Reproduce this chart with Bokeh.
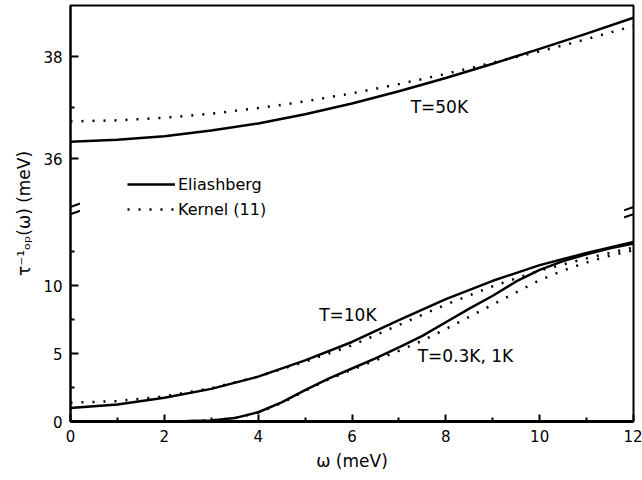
from bokeh.plotting import figure
from bokeh.models import (Range1d, FixedTicker, CustomJSTickFormatter, Label,
                          Legend, LegendItem, PolyAnnotation)
from bokeh.embed import file_html
from bokeh.resources import INLINE

# ---------------- data ----------------
omega_1 = [0, 1, 2, 3, 4, 5, 6, 7, 8, 9, 10, 11, 12]
tau_50K_eliashberg = [36.33, 36.37, 36.44, 36.55, 36.69, 36.87, 37.08, 37.32, 37.58, 37.86, 38.15, 38.45, 38.76]
tau_50K_kernel = [36.73, 36.75, 36.80, 36.88, 36.99, 37.12, 37.28, 37.46, 37.66, 37.88, 38.10, 38.34, 38.60]
tau_10K_eliashberg = [1.0, 1.25, 1.75, 2.4, 3.3, 4.5, 5.85, 7.45, 9.0, 10.35, 11.5, 12.4, 13.2]
tau_10K_kernel = [1.38, 1.5, 1.85, 2.45, 3.3, 4.4, 5.6, 7.1, 8.6, 9.95, 11.1, 12.0, 12.8]

omega_05 = [0, 0.5, 1, 1.5, 2, 2.5, 3, 3.5, 4, 4.5, 5, 5.5, 6, 6.5, 7, 7.5, 8, 8.5, 9, 9.5, 10, 10.5, 11, 11.5, 12]
tau_03K_eliashberg = [0, 0, 0, 0, 0.01, 0.03, 0.08, 0.25, 0.68, 1.4, 2.3, 3.15, 3.9, 4.65, 5.45, 6.3, 7.3, 8.3, 9.25, 10.3, 11.15, 11.8, 12.3, 12.75, 13.1]
tau_03K_kernel = [0, 0, 0, 0, 0.01, 0.03, 0.08, 0.25, 0.65, 1.35, 2.25, 3.1, 3.8, 4.5, 5.2, 5.95, 6.8, 7.7, 8.6, 9.5, 10.4, 11.1, 11.7, 12.2, 12.6]

x_ticks = [0, 2, 4, 6, 8, 10, 12]
x_minor_ticks = [1, 3, 5, 7, 9, 11]
y_ticks_low = [0, 5, 10]
y_minor_low = [2.5, 7.5, 12.5]
y_ticks_up = [36, 38]
y_minor_up = [37]

series_labels = ["Eliashberg", "Kernel (11)"]
curve_labels = ["T=50K", "T=10K", "T=0.3K, 1K"]

# ---------------- ranges (broken axis) ----------------
LOW0, LOW1 = 0.0, 30.6      # lower panel (0..15.5 visible)
UP0, UP1 = 30.85, 39.0      # upper panel (35..39 visible)
BREAK_LOW = 15.5


def up_to_low(v):
    return (v - UP0) / (UP1 - UP0) * (LOW1 - LOW0) + LOW0


FONT = "DejaVu Sans"

p = figure(width=642, height=480, output_backend="svg", toolbar_location=None,
           x_range=Range1d(0, 12), y_range=Range1d(LOW0, LOW1),
           min_border_left=70, min_border_right=9, min_border_top=5, min_border_bottom=59)
p.extra_y_ranges = {"up": Range1d(UP0, UP1)}
p.grid.visible = False
p.background_fill_color = "white"
p.border_fill_color = "white"
p.outline_line_color = "black"
p.outline_line_width = 2

# x axis
xa = p.xaxis[0]
xa.ticker = FixedTicker(ticks=x_ticks, minor_ticks=x_minor_ticks)
xa.axis_label = "ω (meV)"
xa.axis_line_width = 3
xa.major_tick_in = 7
xa.major_tick_out = 0
xa.minor_tick_in = 4
xa.minor_tick_out = 0
xa.major_tick_line_width = 2
xa.minor_tick_line_width = 2
xa.major_label_standoff = 8
xa.axis_label_standoff = 6

# y axis (single axis, labels for both panels)
ya = p.yaxis[0]
ya.ticker = FixedTicker(ticks=y_ticks_low + [up_to_low(v) for v in y_ticks_up],
                        minor_ticks=y_minor_low + [up_to_low(v) for v in y_minor_up])
ya.formatter = CustomJSTickFormatter(
    args=dict(brk=BREAK_LOW, l0=LOW0, l1=LOW1, u0=UP0, u1=UP1),
    code="""
    if (tick > brk) { return ((tick - l0) / (l1 - l0) * (u1 - u0) + u0).toFixed(0); }
    return tick.toFixed(0);
    """)
ya.axis_label = "τ⁻¹ₒₚ(ω) (meV)"
ya.axis_line_width = 2
ya.major_tick_in = 8
ya.major_tick_out = 0
ya.minor_tick_in = 4
ya.minor_tick_out = 0
ya.major_tick_line_width = 2
ya.minor_tick_line_width = 2
ya.major_label_standoff = 8
ya.axis_label_standoff = 6

for ax in (xa, ya):
    ax.major_label_text_font = FONT
    ax.major_label_text_font_size = "15px"
    ax.major_label_text_color = "black"
    ax.axis_label_text_font = FONT
    ax.axis_label_text_font_size = "17px"
    ax.axis_label_text_font_style = "normal"
    ax.axis_label_text_color = "black"
    ax.axis_line_color = "black"
    ax.major_tick_line_color = "black"
    ax.minor_tick_line_color = "black"

LW = 2.5
DOT = "2 9"

r_e50 = p.line(omega_1, tau_50K_eliashberg, y_range_name="up", line_color="black", line_width=LW)
r_k50 = p.line(omega_1, tau_50K_kernel, y_range_name="up", line_color="black", line_width=LW, line_dash=DOT)
p.line(omega_1, tau_10K_eliashberg, line_color="black", line_width=LW)
p.line(omega_1, tau_10K_kernel, line_color="black", line_width=LW, line_dash=DOT)
p.line(omega_05, tau_03K_eliashberg, line_color="black", line_width=LW)
p.line(omega_05, tau_03K_kernel, line_color="black", line_width=LW, line_dash=DOT)

legend = Legend(items=[LegendItem(label=series_labels[0], renderers=[r_e50]),
                       LegendItem(label=series_labels[1], renderers=[r_k50])],
                location=(57, 201), glyph_width=48, glyph_height=22, label_height=22,
                label_standoff=3, spacing=3, padding=0, margin=0,
                border_line_color=None, background_fill_alpha=0,
                label_text_font=FONT, label_text_font_size="16px", label_text_color="black")
p.add_layout(legend)

for txt, xv, yv, rng in ((curve_labels[0], 7.25, 37.02, "up"),
                         (curve_labels[1], 5.3, 7.85, "default"),
                         (curve_labels[2], 7.4, 4.8, "default")):
    p.add_layout(Label(x=xv, y=yv, y_range_name=rng, text=txt, text_color="black",
                       text_font=FONT, text_font_size="17px", text_baseline="middle"))

# break marks on both vertical borders
for xc in (0, 12):
    for yc in (BREAK_LOW + 0.28, BREAK_LOW - 0.25):
        dx, dy, th = 0.2, 0.24, 0.08
        p.add_layout(PolyAnnotation(xs=[xc - dx, xc + dx, xc + dx, xc - dx],
                                    ys=[yc - dy - th, yc + dy - th, yc + dy + th, yc - dy + th],
                                    fill_color="black", fill_alpha=1, line_color=None))

open("out.html", "w").write(file_html(p, INLINE))
